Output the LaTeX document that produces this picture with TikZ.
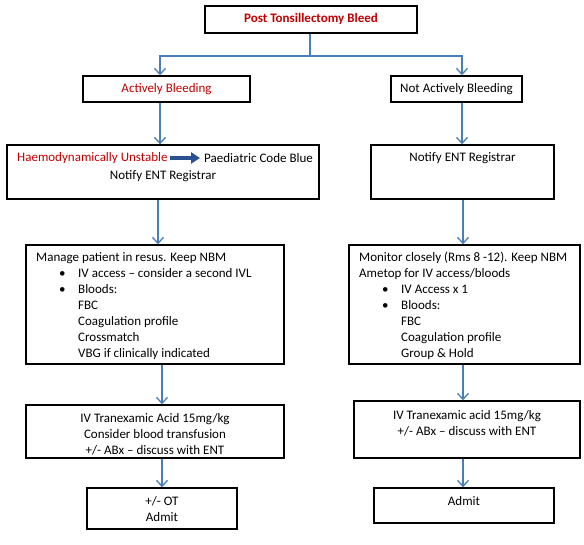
\documentclass[tikz,border=0pt]{standalone}
\usepackage{fontspec}
\setmainfont{Carlito}
\usetikzlibrary{arrows.meta}
\definecolor{dred}{HTML}{C00000}
\definecolor{cblue}{HTML}{4A7EBB}
\definecolor{tblue}{HTML}{2B5190}
\tikzset{
  box/.style={draw=black, line width=1.4pt, rectangle, inner sep=0pt},
  txt/.style={inner sep=0pt, font=\fontsize{13pt}{16pt}\selectfont, align=center},
  ltxt/.style={inner sep=0pt, font=\fontsize{13pt}{16pt}\selectfont, align=left, anchor=west},
  conn/.style={draw=cblue, line width=1.3pt},
  arr/.style={conn, -{Straight Barb[length=6pt,width=11pt,line width=1.3pt]}},
  fat/.style={draw=tblue, line width=3.6pt, -{Triangle[length=9pt,width=11pt]}, shorten <=2pt, shorten >=4pt},
}
\newcommand{\bl}[1]{\hspace*{23pt}\makebox[19pt][l]{\textbullet}#1}
\newcommand{\il}[1]{\hspace*{42pt}#1}
\begin{document}
\begin{tikzpicture}[x=1pt,y=-1pt]
\useasboundingbox[fill=white] (0,0) rectangle (584,545);
% boxes
\node[box, minimum width=212pt, minimum height=27pt] (title) at (311,19.5) {};
\node[box, minimum width=167pt, minimum height=26pt] (ab) at (166.5,89) {};
\node[box, minimum width=131pt, minimum height=26pt] (nab) at (456.5,89) {};
\node[box, minimum width=312pt, minimum height=54pt] (haem) at (163,172) {};
\node[box, minimum width=183pt, minimum height=54pt] (notr) at (462.5,172) {};
\node[box, minimum width=258pt, minimum height=119pt] (man) at (155,304.5) {};
\node[box, minimum width=231pt, minimum height=119pt] (mon) at (464.5,304.5) {};
\node[box, minimum width=258pt, minimum height=53pt] (ivl) at (155,431.5) {};
\node[box, minimum width=226pt, minimum height=57pt] (ivr) at (467,429.5) {};
\node[box, minimum width=150pt, minimum height=41pt] (adl) at (162,508.5) {};
\node[box, minimum width=180pt, minimum height=35pt] (adr) at (464,505.5) {};
% texts
\node[txt, text=dred, font=\fontsize{13pt}{16pt}\selectfont\bfseries] (tt) at (311,19) {Post Tonsillectomy Bleed};
\node[txt, text=dred] (abt) at (166.5,89) {Actively Bleeding};
\node[txt] (nabt) at (456.5,89) {Not Actively Bleeding};
\node[txt, text=dred, anchor=west] (h1) at (17,158) {Haemodynamically Unstable};
\node[txt, anchor=west] (h2) at (204,158) {Paediatric Code Blue};
\node[txt] (h3) at (163,176) {Notify ENT Registrar};
\node[txt] (nr) at (462.5,158) {Notify ENT Registrar};
\node[ltxt] (mant) at (36,306) {Manage patient in resus. Keep NBM\\
\bl{IV access – consider a second IVL}\\
\bl{Bloods:}\\
\il{FBC}\\
\il{Coagulation profile}\\
\il{Crossmatch}\\
\il{VBG if clinically indicated}};
\node[ltxt] (mont) at (359,306) {Monitor closely (Rms 8 -12). Keep NBM\\
Ametop for IV access/bloods\\
\bl{IV Access x 1}\\
\bl{Bloods:}\\
\il{FBC}\\
\il{Coagulation profile}\\
\il{Group \& Hold}};
\node[txt] (ivlt) at (155,434) {IV Tranexamic Acid 15mg/kg\\Consider blood transfusion\\+/- ABx – discuss with ENT};
\node[txt] (ivrt) at (467,423) {IV Tranexamic acid 15mg/kg\\+/- ABx – discuss with ENT};
\node[txt] (adlt) at (162,509.5) {+/- OT\\Admit};
\node[txt] (adrt) at (464,501) {Admit};
% connectors
\coordinate (j) at (310,56);
\draw[conn] (title.south -| j) -- (j);
\draw[arr] (j) -| (ab.north -| 160,0);
\draw[arr] (j) -| (nab.north -| 462,0);
\draw[arr] (ab.south -| 160,0) -- (haem.north -| 160,0);
\draw[arr] (nab.south -| 462,0) -- (notr.north -| 462,0);
\draw[arr] (haem.south -| 158,0) -- (man.north -| 158,0);
\draw[arr] (notr.south -| 463,0) -- (mon.north -| 463,0);
\draw[arr] (man.south -| 162,0) -- (ivl.north -| 162,0);
\draw[arr] (mon.south -| 463,0) -- (ivr.north -| 463,0);
\draw[arr] (ivl.south -| 162,0) -- (adl.north -| 162,0);
\draw[arr] (ivr.south -| 463,0) -- (adr.north -| 463,0);
\draw[fat] (h1.east) -- (h2.west);
\end{tikzpicture}
\end{document}
